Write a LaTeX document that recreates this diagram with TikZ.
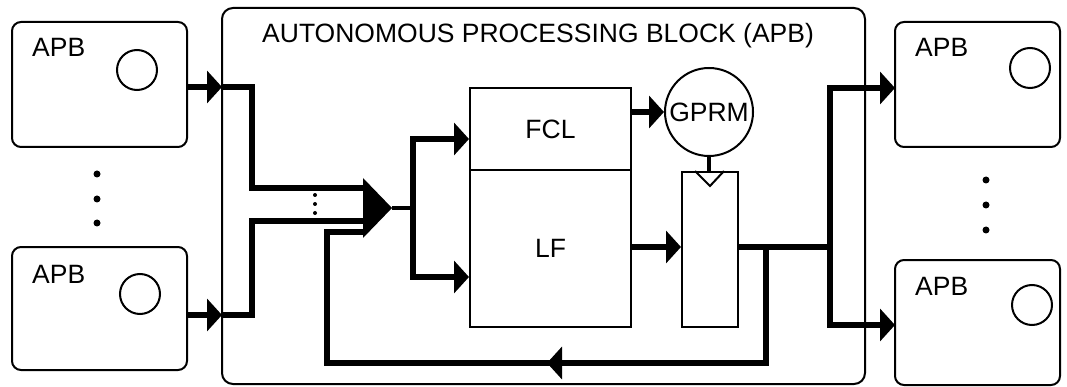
\documentclass[tikz,border=0pt]{standalone}
\usepackage{fontspec}
\setmainfont{Liberation Sans}
\usetikzlibrary{arrows.meta}
\begin{document}
\begin{tikzpicture}[x=1pt,y=-1pt,
  thinline/.style={line width=2pt},
  bus/.style={line width=6pt},
  midbus/.style={line width=4pt},
  tip/.style={-{Triangle[length=15pt,width=32pt]}},
  apb/.style={draw,line width=2pt,rounded corners=9pt,inner sep=0pt},
  txt/.style={font=\fontsize{26.5}{30}\selectfont, inner sep=0pt},
  bigdot/.style={circle,fill,inner sep=0pt,minimum size=7pt},
  smalldot/.style={circle,fill,inner sep=0pt,minimum size=4pt},
  ring/.style={draw,line width=2pt,circle,inner sep=0pt,minimum size=40pt},
  blk/.style={draw,line width=2pt,inner sep=0pt}]
\useasboundingbox (0,0) rectangle (1067,387);

% outer APBs
\node[apb,minimum width=175pt,minimum height=125pt] (L1) at (99.5,84.5) {};
\node[apb,minimum width=175pt,minimum height=123pt] (L2) at (99.5,308.5) {};
\node[apb,minimum width=165pt,minimum height=125pt] (R1) at (977.5,84.5) {};
\node[apb,minimum width=165pt,minimum height=125pt] (R2) at (977.5,322.5) {};
\node[txt,anchor=base west] (L1t) at (32,57) {APB};
\node[txt,anchor=base west] (L2t) at (32,283) {APB};
\node[txt,anchor=base west] (R1t) at (915,57) {APB};
\node[txt,anchor=base west] (R2t) at (915,295) {APB};
\node[ring] (L1c) at (137,70) {};
\node[ring] (L2c) at (140,294) {};
\node[ring] (R1c) at (1030,68) {};
\node[ring] (R2c) at (1032,305) {};
\node[bigdot] (ld1) at (97,174) {};
\node[bigdot] (ld2) at (97,199) {};
\node[bigdot] (ld3) at (97,223) {};
\node[bigdot] (rd1) at (986,180) {};
\node[bigdot] (rd2) at (986,205) {};
\node[bigdot] (rd3) at (986,230) {};

% main block
\node[apb,rounded corners=11pt,minimum width=643pt,minimum height=376pt] (main) at (543.5,196) {};
\node[txt,anchor=base west] (title) at (262,43) {AUTONOMOUS PROCESSING BLOCK (APB)};

% inner blocks
\node[blk,minimum width=161pt,minimum height=82pt,txt] (FCL) at (550.5,129) {FCL};
\node[blk,minimum width=161pt,minimum height=157pt,txt] (LF) at (550.5,248.5) {LF};
\node[draw,line width=2pt,circle,inner sep=0pt,minimum size=88pt,txt] (gprm) at (709,112) {GPRM};
\node[blk,minimum width=56pt,minimum height=155pt] (reg) at (710,249.5) {};
\draw[thinline] ([xshift=-15pt]reg.north) -- ([yshift=-15pt]reg.north) -- ([xshift=14pt]reg.north);

% coordinates
\coordinate (in1) at (222,87);
\coordinate (in2) at (222,315);
\coordinate (c1) at (252,87);
\coordinate (c1b) at (252,188);
\coordinate (m1) at (363,188);
\coordinate (c2) at (252,315);
\coordinate (c2b) at (252,221);
\coordinate (m2) at (363,221);
\coordinate (m3) at (363,232);
\coordinate (mt) at (363,178);
\coordinate (mb) at (363,238);
\coordinate (mux) at (392,208);
\coordinate (br) at (413,208);
\coordinate (brt) at (413,139);
\coordinate (brb) at (413,277);
\coordinate (yLF) at (0,247);
\coordinate (ob) at (830,247);
\coordinate (obt) at (830,88);
\coordinate (obb) at (830,325);
\coordinate (o1) at (895,88);
\coordinate (o2) at (895,325);
\coordinate (fb0) at (766,247);
\coordinate (fb1) at (766,363);
\coordinate (fbm) at (547,363);
\coordinate (fbm2) at (556,363);
\coordinate (fb2) at (327,363);
\coordinate (fb3) at (327,232);

% inputs
\draw[bus,tip] (L1.east |- in1) -- (in1);
\draw[bus,tip] (L2.east |- in2) -- (in2);
\draw[bus] (in1) -- (c1) -- (c1b) -- (m1);
\draw[bus] (in2) -- (c2) -- (c2b) -- (m2);
\node[smalldot] (sd1) at (315,195) {};
\node[smalldot] (sd2) at (315,204) {};
\node[smalldot] (sd3) at (315,213) {};

% multiplexer
\fill (mt) -- (mb) -- (mux) -- cycle;
\draw[midbus] (mux) -- (br);
\draw[bus,tip] (br) -- (brt) -- (FCL.west |- brt);
\draw[bus,tip] (br) -- (brb) -- (LF.west |- brb);

% FCL -> GPRM, LF -> register
\draw[bus,tip] (FCL.east |- gprm.west) -- (gprm.west);
\draw[midbus] (gprm.south) -- (gprm.south |- reg.north);
\draw[bus,tip] (LF.east |- yLF) -- (reg.west |- yLF);

% outputs
\draw[bus] (reg.east |- yLF) -- (ob);
\draw[bus,tip] (ob) -- (obt) -- (o1);
\draw[bus,tip] (ob) -- (obb) -- (o2);

% feedback
\draw[bus,tip] (fb0) -- (fb1) -- (fbm);
\draw[bus] (fbm2) -- (fb2) -- (fb3) -- (m3);
\end{tikzpicture}
\end{document}
